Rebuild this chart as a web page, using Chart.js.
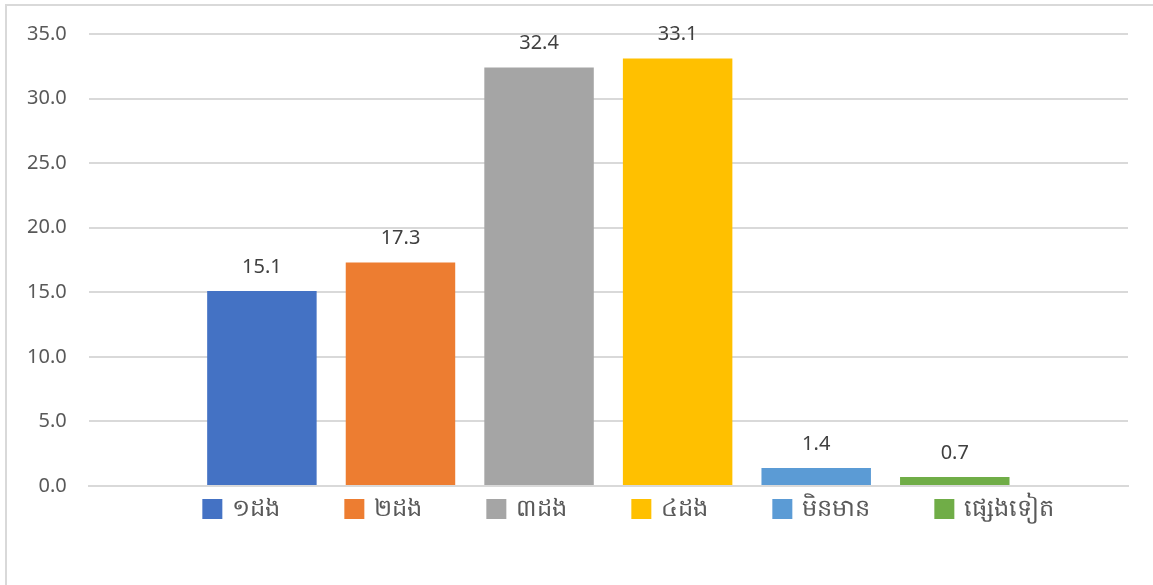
<!DOCTYPE html>
<html>
<head>
<meta charset="utf-8">
<script src="https://cdn.jsdelivr.net/npm/chart.js@4"></script>
<style>
    body { margin: 0; background: #fff; overflow: hidden; }
    #frame {
        position: absolute; left: 5px; top: 4px;
        width: 1160px; height: 600px;
        border: 2px solid #d9d9d9; box-sizing: border-box;
    }
    #wrap { position: absolute; left: 0; top: 0; width: 1153px; height: 585px; }
</style>
</head>
<body>
<div id="frame"></div>
<div id="wrap"><canvas id="chart"></canvas></div>
<script>
// -------- DATA --------
const categories = ['១ដង', '២ដង', '៣ដង', '៤ដង', 'មិនមាន', 'ផ្សេងទៀត'];
const values = [15.1, 17.3, 32.4, 33.1, 1.4, 0.7];
const colors = ['#4472c4', '#ed7d31', '#a5a5a5', '#ffc000', '#5b9bd5', '#70ad47'];
const yTicks = [0, 5, 10, 15, 20, 25, 30, 35];
// -------- END DATA --------

const FONT = "'Noto Sans', 'DejaVu Sans', sans-serif";

// value labels drawn above each bar
const valueLabels = {
    id: 'valueLabels',
    afterDatasetsDraw(chart) {
        const ctx = chart.ctx;
        ctx.save();
        ctx.font = '20px ' + FONT;
        ctx.fillStyle = '#404040';
        ctx.textAlign = 'center';
        ctx.textBaseline = 'bottom';
        chart.data.datasets.forEach((ds, i) => {
            const meta = chart.getDatasetMeta(i);
            meta.data.forEach((bar, j) => {
                ctx.fillText(ds.data[j].toFixed(1), bar.x, bar.y - 14);
            });
        });
        ctx.restore();
    }
};

// legend row right under the axis, wide gaps between items
const bottomLegend = {
    id: 'bottomLegend',
    afterDraw(chart) {
        const ctx = chart.ctx;
        const box = 20, gap = 10, spacing = 64;
        ctx.save();
        ctx.font = '24px ' + FONT;
        const widths = chart.data.datasets.map(ds => ctx.measureText(ds.label).width);
        const total = widths.reduce((a, w) => a + box + gap + w, 0) + spacing * (widths.length - 1);
        const area = chart.chartArea;
        let x = (area.left + area.right) / 2 + 20 - total / 2;
        const y = area.bottom + 23;
        ctx.textBaseline = 'middle';
        ctx.textAlign = 'left';
        chart.data.datasets.forEach((ds, i) => {
            ctx.fillStyle = ds.backgroundColor;
            ctx.fillRect(x, y - box / 2, box, box);
            ctx.fillStyle = '#595959';
            ctx.fillText(ds.label, x + box + gap, y);
            x += box + gap + widths[i] + spacing;
        });
        ctx.restore();
    }
};

new Chart(document.getElementById('chart'), {
    type: 'bar',
    data: {
        labels: [''],
        datasets: categories.map((name, i) => ({
            label: name,
            data: [values[i]],
            backgroundColor: colors[i],
            categoryPercentage: 0.8,
            barPercentage: 0.79
        }))
    },
    options: {
        responsive: true,
        maintainAspectRatio: false,
        animation: false,
        layout: { padding: { left: 5, right: 25, top: 33, bottom: 91 } },
        plugins: {
            tooltip: { enabled: false },
            legend: { display: false }
        },
        scales: {
            x: {
                grid: { display: false },
                border: { color: '#d9d9d9', width: 2 },
                ticks: { display: false }
            },
            y: {
                min: 0,
                max: 35,
                afterBuildTicks: axis => { axis.ticks = yTicks.map(v => ({ value: v })); },
                grid: { color: '#d9d9d9', lineWidth: 2, drawTicks: false },
                border: { display: false },
                ticks: {
                    padding: 22,
                    color: '#595959',
                    font: { family: FONT, size: 20 },
                    callback: v => v.toFixed(1)
                }
            }
        }
    },
    plugins: [valueLabels, bottomLegend]
});
</script>
</body>
</html>
